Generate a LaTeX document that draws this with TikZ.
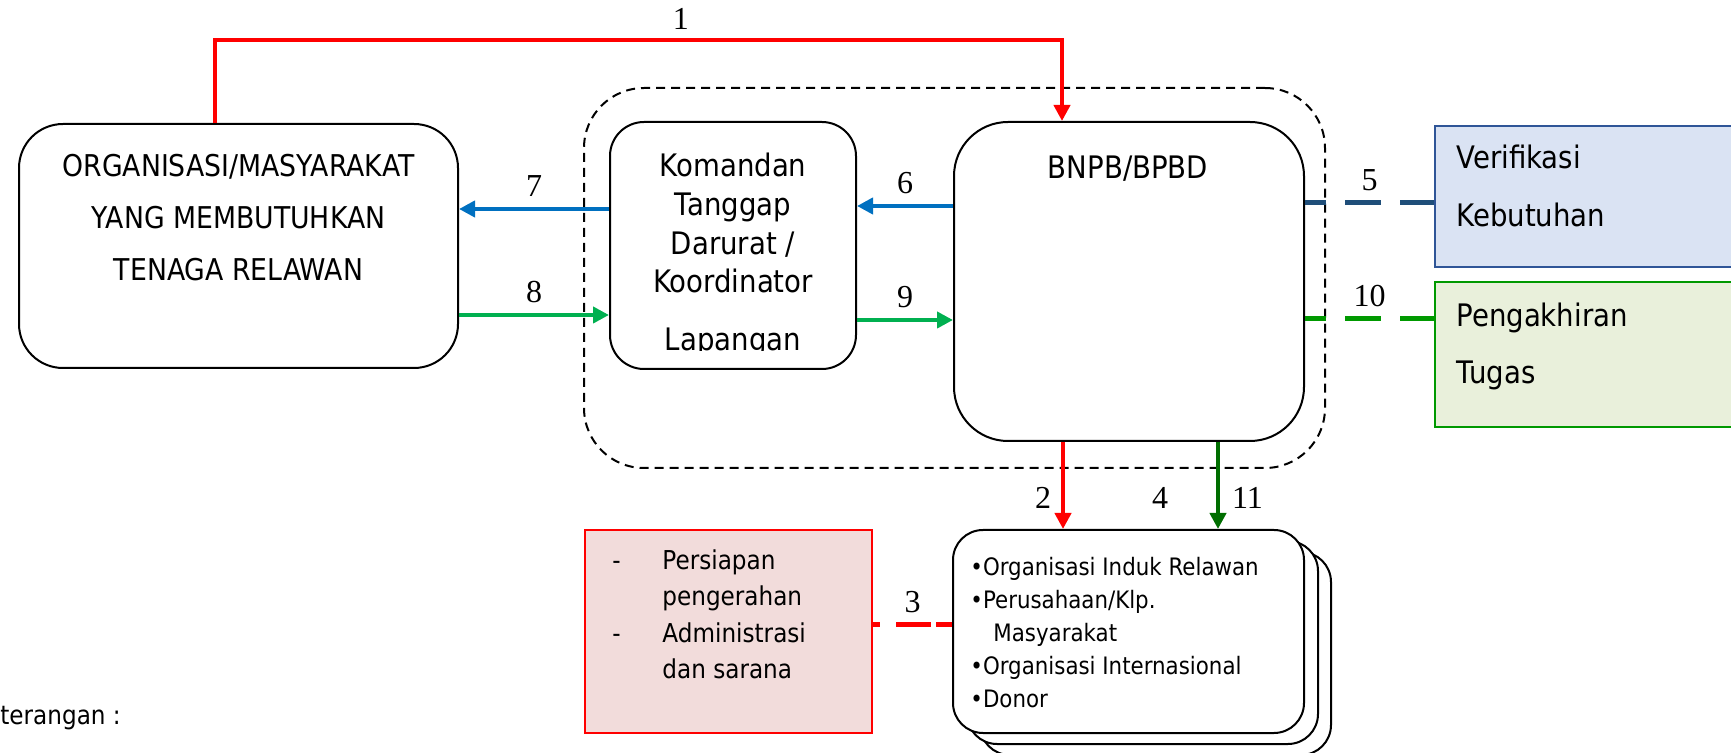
\documentclass[tikz,border=0pt]{standalone}
\usepackage{fontspec}
\setmainfont{DejaVu Sans}[FakeStretch=0.89]
\newfontfamily\numfont{Liberation Serif}
\usepackage{array}
\usetikzlibrary{arrows.meta,positioning,shadows}

\definecolor{flowred}{RGB}{255,0,0}
\definecolor{flowblue}{RGB}{0,112,192}
\definecolor{flowgreen}{RGB}{0,176,80}
\definecolor{darkgreen}{RGB}{0,110,0}
\definecolor{navyline}{RGB}{31,78,121}
\definecolor{linegreen}{RGB}{0,153,0}
\definecolor{verifill}{RGB}{218,227,243}
\definecolor{veridraw}{RGB}{47,85,151}
\definecolor{tugasfill}{RGB}{233,240,219}
\definecolor{persfill}{RGB}{242,220,219}

\begin{document}
\begin{tikzpicture}[
    x=0.5pt, y=-0.5pt,
    boxunit/.style={rectangle, draw, line width=1pt, inner sep=0pt},
    bigtext/.style={inner sep=0pt, align=center, font=\fontsize{15.5}{19.3}\selectfont},
    numlabel/.style={inner sep=0pt, text=black, font=\numfont\fontsize{16}{16}\selectfont},
    flowarrow/.style={-{Triangle[length=8pt,width=8pt]}, line width=2pt},
    dashlink/.style={line width=2.5pt, dash pattern=on 18pt off 9.5pt, dash phase=7.5pt}
]
\clip (0,0) rectangle (1731,753);

% Boxes
\node[boxunit, rounded corners=30pt, dash pattern=on 4.5pt off 3pt, minimum width=370.5pt, minimum height=190pt] (group) at (954.5,278) {};
\node[boxunit, rounded corners=22pt, minimum width=219.5pt, minimum height=122pt] (org) at (238.5,246) {};
\node[boxunit, rounded corners=17pt, minimum width=123pt, minimum height=123.5pt] (komandan) at (733,245.5) {};
\node[boxunit, rounded corners=27pt, minimum width=175pt, minimum height=159.5pt] (bnpb) at (1129,281.5) {};
\node[boxunit, fill=verifill, draw=veridraw, minimum width=162.5pt, minimum height=70.5pt] (verif) at (1597.5,196.5) {};
\node[boxunit, fill=tugasfill, draw=linegreen, minimum width=162.5pt, minimum height=72.5pt] (tugas) at (1597.5,354.5) {};
\node[boxunit, fill=persfill, draw=flowred, minimum width=143.5pt, minimum height=101.5pt] (pers) at (728.5,631.5) {};
\node[boxunit, rounded corners=15pt, fill=white, minimum width=175.5pt, minimum height=101.5pt,
    copy shadow={shadow xshift=13.5pt, shadow yshift=-11pt, draw=black, line width=1pt},
    copy shadow={shadow xshift=7pt, shadow yshift=-5.5pt, draw=black, line width=1pt}] (orglist) at (1128.5,631.5) {};

% Texts
\node[bigtext, anchor=north, font=\fontsize{15}{26}\selectfont] (orgtext) at (238.5,154) {ORGANISASI/MASYARAKAT\\YANG MEMBUTUHKAN\\TENAGA RELAWAN};
\begin{scope}
\clip (komandan.north west) rectangle ([yshift=9.5pt]komandan.south east);
\node[bigtext, anchor=north] (komtext) at (733,153) {Komandan\\Tanggap\\Darurat /\\Koordinator\\[9.8pt]Lapangan};
\end{scope}
\node[bigtext, anchor=north] (bnpbtext) at (1128,156) {BNPB/BPBD};
\node[bigtext, anchor=north west, align=left, font=\fontsize{15.5}{29}\selectfont] (veritext) at (1456,145) {Verifikasi\\Kebutuhan};
\node[bigtext, anchor=north west, align=left, font=\fontsize{15.5}{28.5}\selectfont] (tugastext) at (1456,303) {Pengakhiran\\Tugas};
\node[bigtext, anchor=north west, align=left, font=\fontsize{12}{16.5}\selectfont] (listtext) at (970,557)
    {•Organisasi Induk Relawan\\•Perusahaan/Klp.\\\hspace*{11.5pt}Masyarakat\\•Organisasi Internasional\\•Donor};
\node[inner sep=0pt, anchor=north west, font=\fontsize{13}{18.3}\selectfont] (perstext) at (612,543)
    {\begin{tabular}{@{}p{25pt}@{}l@{}}
     - & Persiapan\\
       & pengerahan\\
     - & Administrasi\\
       & dan sarana
     \end{tabular}};
\node[inner sep=0pt, anchor=west, font=\fontsize{13}{16}\selectfont] (keterangan) at (0,718) {terangan :};

% Connectors
\coordinate (onestart) at ([xshift=-11.75pt]org.north);
\coordinate (oneend) at ([xshift=-33.5pt]bnpb.north);
\coordinate (onerun) at (0,40);
\draw[flowarrow, flowred] (onestart) -- (onestart |- onerun) -- node[numlabel, above=4pt, pos=0.55] {1} (oneend |- onerun) -- (oneend);

\draw[flowarrow, flowblue] (komandan.west |- 0,209) -- node[numlabel, above=5pt] {7} (org.east |- 0,209);
\draw[flowarrow, flowgreen] (org.east |- 0,315) -- node[numlabel, above=5pt] {8} (komandan.west |- 0,315);
\draw[flowarrow, flowblue] (bnpb.west |- 0,206) -- node[numlabel, above=5pt] {6} (komandan.east |- 0,206);
\draw[flowarrow, flowgreen] (komandan.east |- 0,320) -- node[numlabel, above=5pt] {9} (bnpb.west |- 0,320);

\draw[dashlink, navyline] (bnpb.east |- 0,203) -- node[numlabel, above=5pt] {5} (verif.west |- 0,203);
\draw[dashlink, linegreen] (bnpb.east |- 0,319) -- node[numlabel, above=5pt] {10} (tugas.west |- 0,319);
\draw[dashlink, flowred, dash pattern=on 3.5pt off 8pt on 17.5pt off 2.5pt on 20pt, dash phase=0pt] (pers.east |- 0,625) -- node[numlabel, above=5pt] {3} (orglist.west |- 0,625);

\coordinate (twostart) at ([xshift=-33pt]bnpb.south);
\draw[flowarrow, flowred] (twostart) -- node[numlabel, left=5pt, pos=0.64] {2} (twostart |- orglist.north);
\coordinate (elevenstart) at ([xshift=44.5pt]bnpb.south);
\draw[flowarrow, darkgreen] (elevenstart) -- node[numlabel, right=6pt, pos=0.64] {11} (elevenstart |- orglist.north);
\node[numlabel] (lblfour) at (1160,498) {4};

\end{tikzpicture}
\end{document}
